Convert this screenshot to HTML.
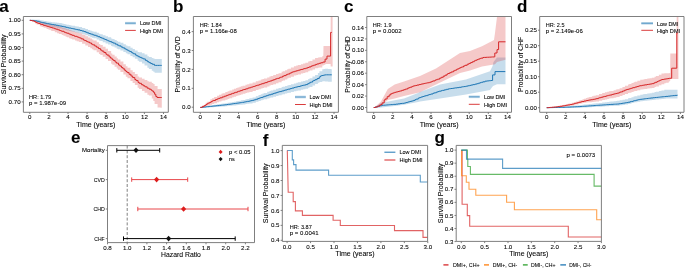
<!DOCTYPE html>
<html><head><meta charset="utf-8"><style>
html,body{margin:0;padding:0;background:#fff;width:685px;height:268px;overflow:hidden}
svg{display:block;font-family:"Liberation Sans", sans-serif;filter:blur(0.4px)}
text{stroke:#000;stroke-width:0.08px;paint-order:stroke}
</style></head><body>
<svg width="685" height="268" viewBox="0 0 685 268">
<rect width="685" height="268" fill="#fff"/>
<text x="-0.8" y="12.3" font-size="17" text-anchor="start" font-weight="bold" fill="#000">a</text>
<text x="173" y="12.3" font-size="17" text-anchor="start" font-weight="bold" fill="#000">b</text>
<text x="344.1" y="12.3" font-size="17" text-anchor="start" font-weight="bold" fill="#000">c</text>
<text x="517" y="12.3" font-size="17" text-anchor="start" font-weight="bold" fill="#000">d</text>
<text x="70.9" y="142.9" font-size="17" text-anchor="start" font-weight="bold" fill="#000">e</text>
<text x="262.8" y="146.2" font-size="17" text-anchor="start" font-weight="bold" fill="#000">f</text>
<text x="434.6" y="143" font-size="17" text-anchor="start" font-weight="bold" fill="#000">g</text>
<path d="M29.8 19.9 L32.03 19.9 L32.03 19.73 L35.22 19.73 L35.22 19.73 L36.63 19.73 L36.63 19.83 L39.82 19.83 L39.82 20.24 L41.61 20.24 L41.61 20.61 L43.64 20.61 L43.64 20.95 L46.56 20.95 L46.56 21.38 L48.56 21.38 L48.56 21.68 L50.87 21.68 L50.87 22.02 L52.03 22.02 L52.03 22.17 L54.79 22.17 L54.79 22.54 L57.07 22.54 L57.07 22.84 L58.9 22.84 L58.9 23.07 L61.73 23.07 L61.73 23.51 L63.5 23.51 L63.5 23.93 L65.6 23.93 L65.6 24.42 L66.99 24.42 L66.99 24.75 L68.98 24.75 L68.98 25.12 L70.53 25.12 L70.53 25.41 L72.2 25.41 L72.2 25.71 L74.95 25.71 L74.95 26.25 L76.67 26.25 L76.67 26.6 L78.84 26.6 L78.84 27.06 L82.09 27.06 L82.09 27.95 L85.31 27.95 L85.31 28.96 L88.01 28.96 L88.01 29.98 L90.3 29.98 L90.3 30.81 L92.01 30.81 L92.01 31.34 L93.46 31.34 L93.46 31.8 L96.69 31.8 L96.69 32.87 L98.93 32.87 L98.93 33.73 L100.28 33.73 L100.28 34.25 L102.75 34.25 L102.75 35.21 L105.56 35.21 L105.56 36.3 L108.01 36.3 L108.01 37.3 L111.13 37.3 L111.13 38.57 L112.32 38.57 L112.32 39.06 L114.58 39.06 L114.58 40.11 L116.69 40.11 L116.69 41.09 L117.93 41.09 L117.93 41.67 L120.44 41.67 L120.44 42.86 L123.41 42.86 L123.41 44.31 L125.82 44.31 L125.82 45.48 L127.49 45.48 L127.49 46.3 L130.44 46.3 L130.44 47.86 L132.66 47.86 L132.66 49.11 L134.88 49.11 L134.88 50.46 L137.64 50.46 L137.64 51.88 L139.07 51.88 L139.07 52.37 L141.97 52.37 L141.97 53.33 L144.57 53.33 L144.57 54.57 L147.4 54.57 L147.4 56.17 L148.92 56.17 L148.92 56.9 L151.79 56.9 L151.79 58.01 L153.31 58.01 L153.31 58.6 L154.59 58.6 L154.59 59.04 L157.57 59.04 L157.57 59 L160.57 59 L160.57 59 L161.8 59 L161.8 59 L161.8 72.7 L161.8 72.7 L160.57 72.7 L160.57 72.7 L157.57 72.7 L157.57 72.63 L154.59 72.63 L154.59 71.83 L153.31 71.83 L153.31 70.83 L151.79 70.83 L151.79 68.94 L148.92 68.94 L148.92 67.8 L147.4 67.8 L147.4 65.42 L144.57 65.42 L144.57 63.47 L141.97 63.47 L141.97 61.71 L139.07 61.71 L139.07 60.82 L137.64 60.82 L137.64 58.65 L134.88 58.65 L134.88 57.22 L132.66 57.22 L132.66 55.9 L130.44 55.9 L130.44 54.24 L127.49 54.24 L127.49 53.36 L125.82 53.36 L125.82 52.1 L123.41 52.1 L123.41 50.55 L120.44 50.55 L120.44 49.28 L117.93 49.28 L117.93 48.66 L116.69 48.66 L116.69 47.6 L114.58 47.6 L114.58 46.47 L112.32 46.47 L112.32 45.93 L111.13 45.93 L111.13 44.5 L108.01 44.5 L108.01 43.38 L105.56 43.38 L105.56 42.14 L102.75 42.14 L102.75 41.07 L100.28 41.07 L100.28 40.48 L98.93 40.48 L98.93 39.5 L96.69 39.5 L96.69 38.33 L93.46 38.33 L93.46 37.83 L92.01 37.83 L92.01 37.25 L90.3 37.25 L90.3 36.36 L88.01 36.36 L88.01 35.27 L85.31 35.27 L85.31 34.16 L82.09 34.16 L82.09 33.19 L78.84 33.19 L78.84 32.66 L76.67 32.66 L76.67 32.27 L74.95 32.27 L74.95 31.65 L72.2 31.65 L72.2 31.3 L70.53 31.3 L70.53 30.97 L68.98 30.97 L68.98 30.54 L66.99 30.54 L66.99 30.18 L65.6 30.18 L65.6 29.62 L63.5 29.62 L63.5 29.16 L61.73 29.16 L61.73 28.56 L58.9 28.56 L58.9 28.14 L57.07 28.14 L57.07 27.62 L54.79 27.62 L54.79 26.97 L52.03 26.97 L52.03 26.7 L50.87 26.7 L50.87 26.14 L48.56 26.14 L48.56 25.64 L46.56 25.64 L46.56 24.91 L43.64 24.91 L43.64 24.38 L41.61 24.38 L41.61 23.79 L39.82 23.79 L39.82 22.51 L36.63 22.51 L36.63 22.01 L35.22 22.01 L35.22 21.14 L32.03 21.14 L32.03 20.7 L29.8 20.7Z" fill="#1f77b4" fill-opacity="0.25" stroke="none"/>
<path d="M29.8 19.9 L32.03 19.9 L32.03 19.99 L35.22 19.99 L35.22 20.83 L36.63 20.83 L36.63 21.23 L39.82 21.23 L39.82 21.83 L41.61 21.83 L41.61 22.33 L43.64 22.33 L43.64 22.82 L46.56 22.82 L46.56 23.5 L48.56 23.5 L48.56 23.97 L50.87 23.97 L50.87 24.51 L52.03 24.51 L52.03 24.78 L54.79 24.78 L54.79 25.43 L57.07 25.43 L57.07 26.02 L58.9 26.02 L58.9 26.52 L61.73 26.52 L61.73 27.39 L63.5 27.39 L63.5 28.03 L65.6 28.03 L65.6 28.78 L66.99 28.78 L66.99 29.28 L68.98 29.28 L68.98 30 L70.53 30 L70.53 30.56 L72.2 30.56 L72.2 31.16 L74.95 31.16 L74.95 31.99 L76.67 31.99 L76.67 32.49 L78.84 32.49 L78.84 33.2 L82.09 33.2 L82.09 34.78 L85.31 34.78 L85.31 36.29 L88.01 36.29 L88.01 37.5 L90.3 37.5 L90.3 38.6 L92.01 38.6 L92.01 39.56 L93.46 39.56 L93.46 40.38 L96.69 40.38 L96.69 42.31 L98.93 42.31 L98.93 43.94 L100.28 43.94 L100.28 44.93 L102.75 44.93 L102.75 46.73 L105.56 46.73 L105.56 48.87 L108.01 48.87 L108.01 50.96 L111.13 50.96 L111.13 53.62 L112.32 53.62 L112.32 54.63 L114.58 54.63 L114.58 56.56 L116.69 56.56 L116.69 58.37 L117.93 58.37 L117.93 59.43 L120.44 59.43 L120.44 61.58 L123.41 61.58 L123.41 64.13 L125.82 64.13 L125.82 66.2 L127.49 66.2 L127.49 67.64 L130.44 67.64 L130.44 70.18 L132.66 70.18 L132.66 72.12 L134.88 72.12 L134.88 74.05 L137.64 74.05 L137.64 76.45 L139.07 76.45 L139.07 77.46 L141.97 77.46 L141.97 78.77 L144.57 78.77 L144.57 79.96 L147.4 79.96 L147.4 81.25 L148.92 81.25 L148.92 81.77 L151.79 81.77 L151.79 82.96 L153.31 82.96 L153.31 84.05 L154.59 84.05 L154.59 85.88 L157.57 85.88 L157.57 89.1 L160.57 89.1 L160.57 89.1 L161.8 89.1 L161.8 89.1 L161.8 107.8 L161.8 107.75 L160.57 107.75 L160.57 107.61 L157.57 107.61 L157.57 103.92 L154.59 103.92 L154.59 100.96 L153.31 100.96 L153.31 98.54 L151.79 98.54 L151.79 95.52 L148.92 95.52 L148.92 94.64 L147.4 94.64 L147.4 92.69 L144.57 92.69 L144.57 90.9 L141.97 90.9 L141.97 88.9 L139.07 88.9 L139.07 87.64 L137.64 87.64 L137.64 85.1 L134.88 85.1 L134.88 83.05 L132.66 83.05 L132.66 81 L130.44 81 L130.44 78.31 L127.49 78.31 L127.49 76.79 L125.82 76.79 L125.82 74.6 L123.41 74.6 L123.41 71.9 L120.44 71.9 L120.44 69.69 L117.93 69.69 L117.93 68.6 L116.69 68.6 L116.69 66.76 L114.58 66.76 L114.58 64.78 L112.32 64.78 L112.32 63.74 L111.13 63.74 L111.13 61.02 L108.01 61.02 L108.01 58.88 L105.56 58.88 L105.56 56.73 L102.75 56.73 L102.75 54.93 L100.28 54.93 L100.28 53.94 L98.93 53.94 L98.93 52.31 L96.69 52.31 L96.69 50.21 L93.46 50.21 L93.46 49.29 L92.01 49.29 L92.01 48.22 L90.3 48.22 L90.3 46.96 L88.01 46.96 L88.01 45.58 L85.31 45.58 L85.31 43.85 L82.09 43.85 L82.09 42.05 L78.84 42.05 L78.84 41.2 L76.67 41.2 L76.67 40.59 L74.95 40.59 L74.95 39.57 L72.2 39.57 L72.2 38.86 L70.53 38.86 L70.53 38.2 L68.98 38.2 L68.98 37.35 L66.99 37.35 L66.99 36.76 L65.6 36.76 L65.6 35.86 L63.5 35.86 L63.5 35.11 L61.73 35.11 L61.73 33.95 L58.9 33.95 L58.9 33.15 L57.07 33.15 L57.07 32.2 L54.79 32.2 L54.79 31.11 L52.03 31.11 L52.03 30.64 L50.87 30.64 L50.87 29.73 L48.56 29.73 L48.56 28.95 L46.56 28.95 L46.56 27.8 L43.64 27.8 L43.64 26.98 L41.61 26.98 L41.61 26.17 L39.82 26.17 L39.82 24.44 L36.63 24.44 L36.63 23.54 L35.22 23.54 L35.22 21.58 L32.03 21.58 L32.03 20.7 L29.8 20.7Z" fill="#d62728" fill-opacity="0.25" stroke="none"/>
<path d="M29.8 20.3H31.09V20.38H32.44V20.46H34.44V20.74H35.52V20.92H37.24V21.33H39.14V21.84H40.34V22.16H41.37V22.43H42.68V22.74H44.48V23.1H46.16V23.43H47.31V23.66H48.83V23.97H50.64V24.32H52.15V24.59H53.92V24.92H56.11V25.32H57.95V25.65H59.41V25.91H60.61V26.12H62.01V26.4H63.63V26.81H65.73V27.33H67.68V27.79H69.05V28.06H71.19V28.48H72.75V28.79H74.6V29.19H75.7V29.42H76.79V29.66H78.01V29.92H80.1V30.49H81.93V31.01H83.98V31.59H85.76V32.29H87.25V32.87H88.87V33.51H90.59V34.12H92.65V34.8H94.17V35.3H96.27V36.01H98.02V36.72H100.04V37.53H101.64V38.18H103.48V38.93H104.88V39.49H106.51V40.19H107.74V40.71H108.83V41.18H109.84V41.61H111.7V42.4H113.24V43.12H115.35V44.16H117.38V45.16H118.84V45.87H121.04V46.99H122.76V47.87H124.7V48.86H126.18V49.63H127.39V50.25H128.57V50.91H129.76V51.57H131.5V52.53H132.6V53.21H133.59V53.83H135.61V55.11H136.7V55.8H138.24V56.69H139.82V57.39H141.58V58.17H143.18V58.92H145.34V60.38H147.26V61.67H148.96V62.67H150.71V63.53H152.32V64.32H154.51V65.4H155.76V65.4H157.6V65.4H159.27V65.4H160.29V65.4H161.63V65.4H161.8V65.4" fill="none" stroke="#1f77b4" stroke-width="1.0" stroke-linejoin="miter"/>
<path d="M29.8 20.3H30.87V20.53H32.13V20.81H34.12V21.6H35.82V22.51H36.9V22.93H38.42V23.49H39.99V24.06H41.16V24.49H43.06V25.13H44.16V25.48H45.62V25.93H47.24V26.44H48.76V26.91H50.47V27.45H52.37V28.05H54.55V28.74H55.88V29.16H57.67V29.8H59.52V30.46H60.85V30.93H61.82V31.29H64.02V32.15H65.36V32.68H66.73V33.21H68.83V34.04H70.54V34.71H72.1V35.33H74.05V36H75.05V36.32H76.91V36.92H78.35V37.38H79.43V37.93H81.23V38.87H83.39V39.98H84.61V40.59H86.38V41.45H87.72V42.09H89.63V43.02H91.51V44.14H92.75V44.87H94.78V46.07H96.58V47.22H98.41V48.56H100.42V50.03H101.93V51.13H103.86V52.54H105.95V54.19H107.04V55.12H109.08V56.87H110.55V58.12H112.12V59.46H113.27V60.44H115.12V62.03H116.46V63.17H118.53V64.95H119.85V66.07H121.52V67.56H123V68.87H124.74V70.43H125.95V71.51H127.14V72.57H129.06V74.28H130.98V76.02H132.67V77.54H134.81V79.48H136.03V80.59H138.08V82.44H139.26V83.34H141.45V84.69H143.21V85.76H144.94V86.83H147.15V88.18H149.11V89.18H151.09V90.15H152.11V91.07H153.55V92.35H154.62V94.25H155.82V96.45H157.06V97.5H159.12V97.5H160.24V97.5H161.58V97.5H161.8V97.5" fill="none" stroke="#d62728" stroke-width="1.0" stroke-linejoin="miter"/>
<path d="M200.3 107.1 L202.53 107.1 L202.53 106.73 L205.72 106.73 L205.72 106.19 L207.13 106.19 L207.13 105.95 L210.32 105.95 L210.32 105.42 L212.11 105.42 L212.11 105.12 L214.14 105.12 L214.14 104.78 L217.06 104.78 L217.06 104.35 L219.06 104.35 L219.06 104.07 L221.37 104.07 L221.37 103.75 L222.53 103.75 L222.53 103.59 L225.29 103.59 L225.29 103.14 L227.57 103.14 L227.57 102.75 L229.4 102.75 L229.4 102.44 L232.23 102.44 L232.23 101.96 L234 101.96 L234 101.64 L236.1 101.64 L236.1 101.26 L237.49 101.26 L237.49 101.01 L239.48 101.01 L239.48 100.66 L241.03 100.66 L241.03 100.35 L242.7 100.35 L242.7 100 L245.45 100 L245.45 99.31 L247.17 99.31 L247.17 98.88 L249.34 98.88 L249.34 98.34 L252.59 98.34 L252.59 97.47 L255.81 97.47 L255.81 96.19 L258.51 96.19 L258.51 95.12 L260.8 95.12 L260.8 94.21 L262.51 94.21 L262.51 93.52 L263.96 93.52 L263.96 92.95 L267.19 92.95 L267.19 91.75 L269.43 91.75 L269.43 91.02 L270.78 91.02 L270.78 90.58 L273.25 90.58 L273.25 89.77 L276.06 89.77 L276.06 88.85 L278.51 88.85 L278.51 88.05 L281.63 88.05 L281.63 87.1 L282.82 87.1 L282.82 86.74 L285.08 86.74 L285.08 86.06 L287.19 86.06 L287.19 85.43 L288.43 85.43 L288.43 85.06 L290.94 85.06 L290.94 84.31 L293.91 84.31 L293.91 83.45 L296.32 83.45 L296.32 82.8 L297.99 82.8 L297.99 82.34 L300.94 82.34 L300.94 81.54 L303.16 81.54 L303.16 80.92 L305.38 80.92 L305.38 80.31 L308.14 80.31 L308.14 79.01 L309.57 79.01 L309.57 78.21 L312.47 78.21 L312.47 76.57 L315.07 76.57 L315.07 75.1 L317.9 75.1 L317.9 73.01 L319.42 73.01 L319.42 71.25 L322.29 71.25 L322.29 69.24 L323.81 69.24 L323.81 68.97 L325.09 68.97 L325.09 68.83 L328.07 68.83 L328.07 68.99 L331.07 68.99 L331.07 69.16 L331.8 69.16 L331.8 69.2 L331.8 81.7 L331.8 81.7 L331.07 81.7 L331.07 81.7 L328.07 81.7 L328.07 81.46 L325.09 81.46 L325.09 81.33 L323.81 81.33 L323.81 81.28 L322.29 81.28 L322.29 81.96 L319.42 81.96 L319.42 82.71 L317.9 82.71 L317.9 84.1 L315.07 84.1 L315.07 85.43 L312.47 85.43 L312.47 86.91 L309.57 86.91 L309.57 87.64 L308.14 87.64 L308.14 88.79 L305.38 88.79 L305.38 89.29 L303.16 89.29 L303.16 89.79 L300.94 89.79 L300.94 90.45 L297.99 90.45 L297.99 90.82 L296.32 90.82 L296.32 91.36 L293.91 91.36 L293.91 92.09 L290.94 92.09 L290.94 92.72 L288.43 92.72 L288.43 93.03 L287.19 93.03 L287.19 93.56 L285.08 93.56 L285.08 94.13 L282.82 94.13 L282.82 94.43 L281.63 94.43 L281.63 95.24 L278.51 95.24 L278.51 95.93 L276.06 95.93 L276.06 96.71 L273.25 96.71 L273.25 97.4 L270.78 97.4 L270.78 97.78 L269.43 97.78 L269.43 98.41 L267.19 98.41 L267.19 99.36 L263.96 99.36 L263.96 99.8 L262.51 99.8 L262.51 100.32 L260.8 100.32 L260.8 101.03 L258.51 101.03 L258.51 101.85 L255.81 101.85 L255.81 102.84 L252.59 102.84 L252.59 103.4 L249.34 103.4 L249.34 103.74 L247.17 103.74 L247.17 104.02 L245.45 104.02 L245.45 104.45 L242.7 104.45 L242.7 104.65 L241.03 104.65 L241.03 104.82 L239.48 104.82 L239.48 105.03 L237.49 105.03 L237.49 105.18 L236.1 105.18 L236.1 105.41 L234 105.41 L234 105.6 L232.23 105.6 L232.23 105.87 L229.4 105.87 L229.4 106.05 L227.57 106.05 L227.57 106.28 L225.29 106.28 L225.29 106.53 L222.53 106.53 L222.53 106.61 L221.37 106.61 L221.37 106.76 L219.06 106.76 L219.06 106.9 L217.06 106.9 L217.06 107.07 L214.14 107.07 L214.14 107.16 L212.11 107.16 L212.11 107.24 L210.32 107.24 L210.32 107.39 L207.13 107.39 L207.13 107.45 L205.72 107.45 L205.72 107.6 L202.53 107.6 L202.53 107.7 L200.3 107.7Z" fill="#1f77b4" fill-opacity="0.25" stroke="none"/>
<path d="M200.3 107.1 L202.53 107.1 L202.53 105.44 L205.72 105.44 L205.72 102.87 L207.13 102.87 L207.13 101.66 L210.32 101.66 L210.32 99.17 L212.11 99.17 L212.11 98.13 L214.14 98.13 L214.14 97.03 L217.06 97.03 L217.06 95.7 L219.06 95.7 L219.06 94.78 L221.37 94.78 L221.37 93.72 L222.53 93.72 L222.53 93.19 L225.29 93.19 L225.29 92.03 L227.57 92.03 L227.57 91.19 L229.4 91.19 L229.4 90.52 L232.23 90.52 L232.23 89.48 L234 89.48 L234 88.83 L236.1 88.83 L236.1 88.06 L237.49 88.06 L237.49 87.54 L239.48 87.54 L239.48 86.81 L241.03 86.81 L241.03 86.24 L242.7 86.24 L242.7 85.64 L245.45 85.64 L245.45 84.75 L247.17 84.75 L247.17 84.19 L249.34 84.19 L249.34 83.49 L252.59 83.49 L252.59 82.43 L255.81 82.43 L255.81 81.33 L258.51 81.33 L258.51 80.41 L260.8 80.41 L260.8 79.62 L262.51 79.62 L262.51 79.03 L263.96 79.03 L263.96 78.54 L267.19 78.54 L267.19 77.38 L269.43 77.38 L269.43 76.54 L270.78 76.54 L270.78 76.03 L273.25 76.03 L273.25 75.11 L276.06 75.11 L276.06 74.05 L278.51 74.05 L278.51 73.13 L281.63 73.13 L281.63 71.77 L282.82 71.77 L282.82 71.23 L285.08 71.23 L285.08 70.19 L287.19 70.19 L287.19 69.22 L288.43 69.22 L288.43 68.65 L290.94 68.65 L290.94 67.5 L293.91 67.5 L293.91 66.29 L296.32 66.29 L296.32 65.57 L297.99 65.57 L297.99 65.07 L300.94 65.07 L300.94 64.19 L303.16 64.19 L303.16 63.53 L305.38 63.53 L305.38 62.87 L308.14 62.87 L308.14 61.62 L309.57 61.62 L309.57 60.89 L312.47 60.89 L312.47 59.41 L315.07 59.41 L315.07 58.1 L317.9 58.1 L317.9 57.57 L319.42 57.57 L319.42 57.3 L322.29 57.3 L322.29 56.3 L323.3 56 L323.5 45.9 L330.6 45.9 L330.7 16.5 L332.6 16.5 L332.6 66.4 L330.7 66.4 L330.6 64 L326 64 L323.3 65.5 L322.29 65.45 L322.29 67.59 L319.42 67.59 L319.42 67.83 L317.9 67.83 L317.9 68.3 L315.07 68.3 L315.07 69.39 L312.47 69.39 L312.47 70.61 L309.57 70.61 L309.57 71.21 L308.14 71.21 L308.14 72.26 L305.38 72.26 L305.38 72.9 L303.16 72.9 L303.16 73.54 L300.94 73.54 L300.94 74.39 L297.99 74.39 L297.99 74.88 L296.32 74.88 L296.32 75.57 L293.91 75.57 L293.91 76.75 L290.94 76.75 L290.94 77.87 L288.43 77.87 L288.43 78.43 L287.19 78.43 L287.19 79.38 L285.08 79.38 L285.08 80.4 L282.82 80.4 L282.82 80.93 L281.63 80.93 L281.63 82.26 L278.51 82.26 L278.51 83.15 L276.06 83.15 L276.06 84.18 L273.25 84.18 L273.25 85.08 L270.78 85.08 L270.78 85.58 L269.43 85.58 L269.43 86.39 L267.19 86.39 L267.19 87.47 L263.96 87.47 L263.96 87.91 L262.51 87.91 L262.51 88.44 L260.8 88.44 L260.8 89.15 L258.51 89.15 L258.51 89.98 L255.81 89.98 L255.81 90.97 L252.59 90.97 L252.59 91.92 L249.34 91.92 L249.34 92.55 L247.17 92.55 L247.17 93.05 L245.45 93.05 L245.45 93.84 L242.7 93.84 L242.7 94.39 L241.03 94.39 L241.03 94.91 L239.48 94.91 L239.48 95.57 L237.49 95.57 L237.49 96.03 L236.1 96.03 L236.1 96.73 L234 96.73 L234 97.32 L232.23 97.32 L232.23 98.27 L229.4 98.27 L229.4 98.88 L227.57 98.88 L227.57 99.64 L225.29 99.64 L225.29 100.46 L222.53 100.46 L222.53 100.84 L221.37 100.84 L221.37 101.59 L219.06 101.59 L219.06 102.24 L217.06 102.24 L217.06 103.19 L214.14 103.19 L214.14 104.01 L212.11 104.01 L212.11 104.82 L210.32 104.82 L210.32 105.78 L207.13 105.78 L207.13 106.27 L205.72 106.27 L205.72 107.19 L202.53 107.19 L202.53 107.7 L200.3 107.7Z" fill="#d62728" fill-opacity="0.25" stroke="none"/>
<path d="M200.3 107.4H202.47V107.17H204.08V107H206.29V106.76H207.35V106.65H209.09V106.46H210.53V106.31H212.52V106.09H213.7V105.97H215.78V105.75H217.44V105.58H219.55V105.37H221.12V105.2H222.63V105.05H224.6V104.8H226.82V104.5H228.26V104.31H230.46V104.01H232.6V103.73H233.79V103.56H235.53V103.31H237.39V103.04H239.56V102.72H241.37V102.46H242.5V102.3H244.1V101.99H245.69V101.68H247.29V101.37H249.48V100.95H250.89V100.67H252.13V100.43H253.76V99.9H255.54V99.3H257.7V98.56H259.41V97.98H260.71V97.53H262.86V96.8H264.45V96.26H266.28V95.65H267.85V95.17H269.08V94.79H270.93V94.22H272.88V93.61H274.08V93.24H275.63V92.76H277.05V92.32H278.23V91.96H279.48V91.58H281.67V90.96H283.76V90.37H285.21V89.97H287.11V89.43H288.13V89.14H290.26V88.54H291.91V88.08H293.92V87.54H295.23V87.21H296.67V86.84H298.08V86.49H300.28V85.93H301.79V85.54H303.39V85.14H305.58V84.58H307.69V83.65H309.16V82.85H310.51V82.12H312.5V81.04H313.6V80.45H315.06V79.66H317.14V78.53H319.28V76.93H320.54V75.97H321.6V75.53H323.57V75.07H325.32V74.8H326.59V74.8H328.19V74.8H329.25V74.8H331.1V74.8H331.8V74.8" fill="none" stroke="#1f77b4" stroke-width="1.0" stroke-linejoin="miter"/>
<path d="M200.3 107.4H202.29V106.43H204.28V105.43H205.9V104.46H207.23V103.66H208.26V103.07H209.71V102.31H211.19V101.54H212.21V101.02H213.23V100.49H215.47V99.59H217.27V98.89H218.53V98.39H220.04V97.8H222.25V96.93H224.36V96.16H226.4V95.44H227.86V94.93H229.45V94.37H231.28V93.73H232.32V93.37H233.99V92.78H235.3V92.32H237.38V91.59H238.42V91.23H240.25V90.59H242.33V89.86H243.58V89.47H245.68V88.83H247.76V88.19H248.74V87.89H250.61V87.32H251.57V87.02H253.18V86.51H254.7V86.02H255.92V85.62H257.29V85.17H259.28V84.52H260.65V84.08H261.8V83.7H263.65V83.1H265.19V82.6H267.17V81.92H268.43V81.47H269.8V80.99H271.78V80.29H273.39V79.72H275V79.15H276.26V78.71H277.24V78.36H279.4V77.6H280.47V77.13H282.51V76.24H283.94V75.62H286.12V74.66H287.59V74.02H289.75V73.08H291.42V72.35H292.69V71.79H294.6V71.23H296.42V70.73H298.25V70.22H299.81V69.79H301.05V69.45H302.83V68.96H303.93V68.65H305.78V68.14H307.55V67.51H308.99V66.95H310.97V66.18H312.18V65.71H313.64V65.15H315.62V64.4H317.07V63.93H318.94V63.33H320.69V62.78H322.85V62.04H325.08V59.1H326.97V56.1H328.96V56.1H330.12V56.1H330.6V56.1V32.4H331.8" fill="none" stroke="#d62728" stroke-width="1.0" stroke-linejoin="miter"/>
<path d="M373.7 107.5 L376 106.5 L381 103 L394.7 100.2 L404 98.5 L418 93 L420 92 L440 84.6 L466 79.6 L490 71.2 L492.6 66 L493.5 62 L497 57.5 L505.5 57.5 L505.5 84.3 L497 84.3 L493 86 L490 89.9 L466 94.5 L440 98.5 L420 101.5 L418 102 L404 104.7 L394.7 106 L381 107.5 L376 108 L373.7 107.5Z" fill="#1f77b4" fill-opacity="0.25" stroke="none"/>
<path d="M373.7 107.5 L376 106 L381 101.5 L387.8 89 L394.7 84.6 L404 81.5 L420 75.9 L436 68.5 L460 53 L470 51 L482 46.3 L494 40 L495 33 L497 17 L497.5 16.5 L505.5 16.5 L505.5 59.7 L497 62 L495 64.2 L482 66.4 L470 70.5 L460 73 L436 84.6 L420 92.3 L404 96 L394.7 98.5 L387.8 100 L381 106 L376 108 L373.7 107.5Z" fill="#d62728" fill-opacity="0.25" stroke="none"/>
<path d="M373.7 107.5H375.35V107.02H376.75V106.61H378.18V106.19H379.62V105.77H381.84V105.32H383.61V105.18H385.44V105.04H386.82V104.93H388.65V104.78H389.77V104.69H390.79V104.61H392.84V104.45H393.81V104.37H396.03V104.13H398.04V103.87H400.01V103.61H401.03V103.48H402.26V103.32H404.3V103.01H405.82V102.59H407.58V102.09H408.7V101.77H409.9V101.43H411.49V100.98H413.42V100.39H415.08V99.62H416.17V99.1H418.24V98.13H419.38V97.59H420.9V97.03H422.61V96.51H423.98V96.1H425.48V95.65H427.57V95.02H429.11V94.56H430.76V94H432.97V93.25H434.28V92.8H436.39V92.09H437.81V91.6H439.17V91.18H441.26V90.64H442.3V90.37H444.37V89.84H446.39V89.32H448.49V88.83H449.53V88.69H450.8V88.51H452.75V88.24H454.27V88.02H455.23V87.89H457.08V87.63H459.06V87.32H461.27V86.96H462.42V86.77H463.71V86.57H465.74V86.24H466.82V86.05H468.13V85.74H469.67V85.38H471.17V85.03H472.82V84.64H474.89V84.16H476.66V83.7H478.46V83.16H480.17V82.64H481.4V82.27H482.94V81.81H485.16V81.14H487.29V80.89H489.23V80.68H490.87V80.5H492.6V80.3V74.9H495V71.6H505.3" fill="none" stroke="#1f77b4" stroke-width="1.0" stroke-linejoin="miter"/>
<path d="M373.7 107.5H375.46V106.97H377.57V106.21H379.52V105.21H380.77V104.57H382.11V102.86H384.19V100.05H385.16V98.94H387.17V96.7H389.15V94.98H390.71V93.8H392.06V93.29H393.37V92.8H394.66V92.32H396.19V91.94H397.8V91.54H399.46V91.02H401.7V90.32H403.67V89.7H405.43V89.04H407.65V88.17H408.89V87.69H410.06V87.23H411.8V86.55H412.82V86.15H413.82V85.84H415.44V85.44H417V85.05H419.13V84.52H420.9V84.12H422.51V83.79H424.11V83.46H425.39V83.2H426.36V83H427.57V82.75H429.41V82.35H430.63V81.88H432.06V81.31H433.03V80.93H435.05V80.14H436.21V79.68H437.51V79.17H439.6V78.2H441.21V77.3H443.26V76.15H445.03V75.16H446.94V74.09H448.02V73.49H449.67V72.69H451.28V71.91H453.36V70.91H454.78V70.22H456.51V69.38H457.54V68.88H459V68.18H460.37V67.51H461.52V66.96H463.53V65.99H464.98V65.29H467.19V64.22H468.9V63.4H470.64V62.57H472.41V61.72H474.24V60.84H475.39V60.29H476.92V59.64H478.18V59.15H479.66V58.57H480.74V58.15H482.94V57.47H484.18V57.4H486V57.3H487.34V57.22H489.42V57.1H491.23V57H492.36V56.94H494.4V56.82H494.8V56.8V53H497V49.6H498.6V41.8H505.5" fill="none" stroke="#d62728" stroke-width="1.0" stroke-linejoin="miter"/>
<path d="M546.7 107.5 L548.93 107.5 L548.93 107.36 L552.12 107.36 L552.12 107.16 L553.53 107.16 L553.53 107.07 L556.72 107.07 L556.72 106.87 L558.51 106.87 L558.51 106.76 L560.54 106.76 L560.54 106.63 L563.46 106.63 L563.46 106.45 L565.46 106.45 L565.46 106.28 L567.77 106.28 L567.77 106.09 L568.93 106.09 L568.93 105.99 L571.69 105.99 L571.69 105.76 L573.97 105.76 L573.97 105.57 L575.8 105.57 L575.8 105.42 L578.63 105.42 L578.63 105.18 L580.4 105.18 L580.4 105 L582.5 105 L582.5 104.76 L583.89 104.76 L583.89 104.6 L585.88 104.6 L585.88 104.38 L587.43 104.38 L587.43 104.2 L589.1 104.2 L589.1 104.01 L591.85 104.01 L591.85 103.7 L593.57 103.7 L593.57 103.51 L595.74 103.51 L595.74 103.26 L598.99 103.26 L598.99 102.89 L602.21 102.89 L602.21 102.53 L604.91 102.53 L604.91 102.22 L607.2 102.22 L607.2 101.96 L608.91 101.96 L608.91 101.77 L610.36 101.77 L610.36 101.6 L613.59 101.6 L613.59 101.22 L615.83 101.22 L615.83 100.96 L617.18 100.96 L617.18 100.8 L619.65 100.8 L619.65 100.31 L622.46 100.31 L622.46 99.68 L624.91 99.68 L624.91 99.14 L628.03 99.14 L628.03 98.36 L629.22 98.36 L629.22 97.99 L631.48 97.99 L631.48 97.28 L633.59 97.28 L633.59 96.62 L634.83 96.62 L634.83 96.24 L637.34 96.24 L637.34 95.45 L640.31 95.45 L640.31 94.71 L642.72 94.71 L642.72 94.31 L644.39 94.31 L644.39 94.03 L647.34 94.03 L647.34 93.54 L649.56 93.54 L649.56 93.17 L651.78 93.17 L651.78 92.65 L654.54 92.65 L654.54 92.03 L655.97 92.03 L655.97 91.71 L658.87 91.71 L658.87 91.06 L661.47 91.06 L661.47 90.48 L664.3 90.48 L664.3 89.85 L665.82 89.85 L665.82 89.7 L668.69 89.7 L668.69 89.7 L670.21 89.7 L670.21 89.7 L671.49 89.7 L671.49 89.7 L674.47 89.7 L674.47 89.7 L677.47 89.7 L677.47 89.7 L677.5 89.7 L677.5 89.7 L677.5 98.6 L677.5 98.6 L677.47 98.6 L677.47 98.6 L674.47 98.6 L674.47 98.6 L671.49 98.6 L671.49 98.6 L670.21 98.6 L670.21 98.6 L668.69 98.6 L668.69 98.6 L665.82 98.6 L665.82 98.68 L664.3 98.68 L664.3 98.98 L661.47 98.98 L661.47 99.27 L658.87 99.27 L658.87 99.59 L655.97 99.59 L655.97 99.74 L654.54 99.74 L654.54 100.05 L651.78 100.05 L651.78 100.33 L649.56 100.33 L649.56 100.52 L647.34 100.52 L647.34 100.78 L644.39 100.78 L644.39 100.92 L642.72 100.92 L642.72 101.13 L640.31 101.13 L640.31 101.68 L637.34 101.68 L637.34 102.29 L634.83 102.29 L634.83 102.6 L633.59 102.6 L633.59 103.11 L631.48 103.11 L631.48 103.67 L629.22 103.67 L629.22 103.96 L628.03 103.96 L628.03 104.54 L624.91 104.54 L624.91 104.91 L622.46 104.91 L622.46 105.35 L619.65 105.35 L619.65 105.68 L617.18 105.68 L617.18 105.74 L615.83 105.74 L615.83 105.86 L613.59 105.86 L613.59 106.02 L610.36 106.02 L610.36 106.1 L608.91 106.1 L608.91 106.2 L607.2 106.2 L607.2 106.33 L604.91 106.33 L604.91 106.48 L602.21 106.48 L602.21 106.67 L598.99 106.67 L598.99 106.85 L595.74 106.85 L595.74 106.97 L593.57 106.97 L593.57 107.07 L591.85 107.07 L591.85 107.23 L589.1 107.23 L589.1 107.32 L587.43 107.32 L587.43 107.41 L585.88 107.41 L585.88 107.52 L583.89 107.52 L583.89 107.6 L582.5 107.6 L582.5 107.72 L580.4 107.72 L580.4 107.78 L578.63 107.78 L578.63 107.83 L575.8 107.83 L575.8 107.85 L573.97 107.85 L573.97 107.89 L571.69 107.89 L571.69 107.93 L568.93 107.93 L568.93 107.94 L567.77 107.94 L567.77 107.98 L565.46 107.98 L565.46 108 L563.46 108 L563.46 107.99 L560.54 107.99 L560.54 107.97 L558.51 107.97 L558.51 107.96 L556.72 107.96 L556.72 107.94 L553.53 107.94 L553.53 107.93 L552.12 107.93 L552.12 107.91 L548.93 107.91 L548.93 107.9 L546.7 107.9Z" fill="#1f77b4" fill-opacity="0.25" stroke="none"/>
<path d="M546.7 107.5 L548.93 107.5 L548.93 107.2 L552.12 107.2 L552.12 106.76 L553.53 106.76 L553.53 106.56 L556.72 106.56 L556.72 106.07 L558.51 106.07 L558.51 105.74 L560.54 105.74 L560.54 105.35 L563.46 105.35 L563.46 104.8 L565.46 104.8 L565.46 104.33 L567.77 104.33 L567.77 103.78 L568.93 103.78 L568.93 103.5 L571.69 103.5 L571.69 102.82 L573.97 102.82 L573.97 102.1 L575.8 102.1 L575.8 101.52 L578.63 101.52 L578.63 100.62 L580.4 100.62 L580.4 100.07 L582.5 100.07 L582.5 99.32 L583.89 99.32 L583.89 98.82 L585.88 98.82 L585.88 98.11 L587.43 98.11 L587.43 97.58 L589.1 97.58 L589.1 97.1 L591.85 97.1 L591.85 96.32 L593.57 96.32 L593.57 95.84 L595.74 95.84 L595.74 95.13 L598.99 95.13 L598.99 93.95 L602.21 93.95 L602.21 93.04 L604.91 93.04 L604.91 92.34 L607.2 92.34 L607.2 91.76 L608.91 91.76 L608.91 91.33 L610.36 91.33 L610.36 90.96 L613.59 90.96 L613.59 90.14 L615.83 90.14 L615.83 89.57 L617.18 89.57 L617.18 89.23 L619.65 89.23 L619.65 88.31 L622.46 88.31 L622.46 86.95 L624.91 86.95 L624.91 85.73 L628.03 85.73 L628.03 84.46 L629.22 84.46 L629.22 83.99 L631.48 83.99 L631.48 83.11 L633.59 83.11 L633.59 82.28 L634.83 82.28 L634.83 81.8 L637.34 81.8 L637.34 80.82 L640.31 80.82 L640.31 79.85 L642.72 79.85 L642.72 79.42 L644.39 79.42 L644.39 79.12 L647.34 79.12 L647.34 78.58 L649.56 78.58 L649.56 78.18 L651.78 78.18 L651.78 77.78 L654.54 77.78 L654.54 76.69 L655.97 76.69 L655.97 76.06 L658.87 76.06 L658.87 74.76 L661.47 74.76 L661.47 73.6 L664.3 73.6 L664.3 73.37 L665.82 73.37 L665.82 73.31 L668.69 73.31 L668.69 73.2 L670.2 73 L670.3 53.4 L676.6 53.4 L676.7 16.5 L678.4 16.5 L678.4 79 L670.3 79 L670.2 81 L668.69 81.67 L668.69 82.74 L665.82 82.74 L665.82 83.3 L664.3 83.3 L664.3 84.28 L661.47 84.28 L661.47 85.32 L658.87 85.32 L658.87 86.48 L655.97 86.48 L655.97 87.05 L654.54 87.05 L654.54 88.02 L651.78 88.02 L651.78 88.32 L649.56 88.32 L649.56 88.62 L647.34 88.62 L647.34 89.02 L644.39 89.02 L644.39 89.24 L642.72 89.24 L642.72 89.57 L640.31 89.57 L640.31 90.26 L637.34 90.26 L637.34 91.01 L634.83 91.01 L634.83 91.37 L633.59 91.37 L633.59 92 L631.48 92 L631.48 92.67 L629.22 92.67 L629.22 93.02 L628.03 93.02 L628.03 94 L624.91 94 L624.91 94.98 L622.46 94.98 L622.46 96.1 L619.65 96.1 L619.65 96.9 L617.18 96.9 L617.18 97.19 L615.83 97.19 L615.83 97.65 L613.59 97.65 L613.59 98.32 L610.36 98.32 L610.36 98.62 L608.91 98.62 L608.91 98.98 L607.2 98.98 L607.2 99.46 L604.91 99.46 L604.91 100.03 L602.21 100.03 L602.21 100.79 L598.99 100.79 L598.99 101.49 L595.74 101.49 L595.74 101.78 L593.57 101.78 L593.57 101.93 L591.85 101.93 L591.85 102.17 L589.1 102.17 L589.1 102.32 L587.43 102.32 L587.43 102.55 L585.88 102.55 L585.88 102.87 L583.89 102.87 L583.89 103.1 L582.5 103.1 L582.5 103.44 L580.4 103.44 L580.4 103.8 L578.63 103.8 L578.63 104.45 L575.8 104.45 L575.8 104.87 L573.97 104.87 L573.97 105.4 L571.69 105.4 L571.69 105.84 L568.93 105.84 L568.93 106.01 L567.77 106.01 L567.77 106.36 L565.46 106.36 L565.46 106.66 L563.46 106.66 L563.46 106.96 L560.54 106.96 L560.54 107.17 L558.51 107.17 L558.51 107.35 L556.72 107.35 L556.72 107.56 L553.53 107.56 L553.53 107.63 L552.12 107.63 L552.12 107.79 L548.93 107.79 L548.93 107.9 L546.7 107.9Z" fill="#d62728" fill-opacity="0.25" stroke="none"/>
<path d="M546.7 107.7H548.08V107.67H550.3V107.61H551.67V107.58H553.64V107.53H555.71V107.49H557.17V107.45H558.69V107.41H560.13V107.38H561.23V107.35H562.8V107.32H564.07V107.27H565.36V107.22H566.56V107.16H567.76V107.11H569.77V107.02H571.27V106.95H572.55V106.9H574.27V106.82H576V106.74H577.79V106.66H579.92V106.55H581.07V106.47H582.51V106.37H583.83V106.28H584.81V106.21H586V106.12H587.47V106.02H588.93V105.92H590.68V105.8H592.22V105.69H593.96V105.57H595.2V105.48H596.34V105.4H597.72V105.3H598.8V105.23H600.23V105.13H601.78V105.02H603.66V104.89H605.73V104.74H606.75V104.67H608.94V104.52H610.82V104.39H613.05V104.26H614.16V104.2H615.6V104.12H617.2V104.03H619.12V103.77H620.47V103.55H622.01V103.3H623.32V103.09H624.86V102.85H626.47V102.59H628.16V102.21H630.02V101.74H631.29V101.42H633.05V100.97H634.13V100.7H635.87V100.26H637.42V99.87H638.55V99.59H639.84V99.38H640.88V99.25H642.32V99.07H643.8V98.88H645.38V98.68H646.43V98.54H648.31V98.31H649.68V98.13H651V97.97H653.1V97.72H654.83V97.54H656.63V97.36H658.27V97.19H659.51V97.06H660.66V96.94H661.86V96.82H663.25V96.68H664.43V96.56H666V96.39H668.2V96.14H670.11V95.93H671.46V95.78H672.82V95.62H674.78V95.4H676.98V95.16H677.5V95.1" fill="none" stroke="#1f77b4" stroke-width="1.0" stroke-linejoin="miter"/>
<path d="M546.7 107.7H548.77V107.52H550.1V107.4H551.83V107.24H553.79V107.07H555.66V106.9H557.8V106.6H559.86V106.31H561.99V106.01H562.99V105.87H564.51V105.61H566.09V105.31H567.13V105.11H568.1V104.93H570.12V104.54H572.34V104.05H574.3V103.52H575.67V103.15H577.53V102.65H578.87V102.29H580.78V101.82H582.1V101.5H584.06V101.03H586.29V100.5H588.51V100.07H590.6V99.72H592.73V99.36H594.59V99.05H596.26V98.62H598.41V98.01H599.48V97.71H600.91V97.3H602.65V96.81H604.22V96.41H606.2V95.91H607.41V95.61H608.45V95.35H609.57V95.06H611.76V94.51H612.89V94.22H614.14V93.9H615.58V93.54H617.34V93.09H619.3V92.36H620.36V91.93H622.51V91.06H624.45V90.28H625.82V89.78H627.02V89.42H628.75V88.91H630.47V88.4H631.77V88.01H632.95V87.66H634.89V87.09H636.71V86.55H638.69V85.96H639.93V85.72H641.82V85.4H642.87V85.22H643.84V85.05H645.03V84.85H646.99V84.51H648.65V84.23H650.4V83.93H652.11V83.63H653.89V82.91H655.26V82.31H657.14V81.49H658.12V81.06H659.57V80.43H660.6V79.98H661.72V79.5H663.83V79.16H665.57V78.88H667.54V78.56H669.27V78.28H670.96V78.2H671.7V78.2V68.2H676.8V33H677.8" fill="none" stroke="#d62728" stroke-width="1.0" stroke-linejoin="miter"/>
<line x1="23.4" y1="16.5" x2="23.4" y2="112.3" stroke="#707070" stroke-width="0.9"/>
<line x1="168.3" y1="16.5" x2="168.3" y2="112.3" stroke="#707070" stroke-width="0.9"/>
<line x1="23.4" y1="16.5" x2="168.3" y2="16.5" stroke="#707070" stroke-width="0.9"/>
<line x1="23.4" y1="112.3" x2="168.3" y2="112.3" stroke="#707070" stroke-width="0.9"/>
<line x1="29.8" y1="112.3" x2="29.8" y2="114" stroke="#707070" stroke-width="0.9"/>
<text x="29.8" y="119.3" font-size="6.21" text-anchor="middle" textLength="3.44" lengthAdjust="spacingAndGlyphs" fill="#000">0</text>
<line x1="48.9" y1="112.3" x2="48.9" y2="114" stroke="#707070" stroke-width="0.9"/>
<text x="48.9" y="119.3" font-size="6.21" text-anchor="middle" textLength="3.44" lengthAdjust="spacingAndGlyphs" fill="#000">2</text>
<line x1="68" y1="112.3" x2="68" y2="114" stroke="#707070" stroke-width="0.9"/>
<text x="68" y="119.3" font-size="6.21" text-anchor="middle" textLength="3.44" lengthAdjust="spacingAndGlyphs" fill="#000">4</text>
<line x1="87.1" y1="112.3" x2="87.1" y2="114" stroke="#707070" stroke-width="0.9"/>
<text x="87.1" y="119.3" font-size="6.21" text-anchor="middle" textLength="3.44" lengthAdjust="spacingAndGlyphs" fill="#000">6</text>
<line x1="106.2" y1="112.3" x2="106.2" y2="114" stroke="#707070" stroke-width="0.9"/>
<text x="106.2" y="119.3" font-size="6.21" text-anchor="middle" textLength="3.44" lengthAdjust="spacingAndGlyphs" fill="#000">8</text>
<line x1="125.3" y1="112.3" x2="125.3" y2="114" stroke="#707070" stroke-width="0.9"/>
<text x="125.3" y="119.3" font-size="6.21" text-anchor="middle" textLength="6.87" lengthAdjust="spacingAndGlyphs" fill="#000">10</text>
<line x1="144.4" y1="112.3" x2="144.4" y2="114" stroke="#707070" stroke-width="0.9"/>
<text x="144.4" y="119.3" font-size="6.21" text-anchor="middle" textLength="6.87" lengthAdjust="spacingAndGlyphs" fill="#000">12</text>
<line x1="163.5" y1="112.3" x2="163.5" y2="114" stroke="#707070" stroke-width="0.9"/>
<text x="163.5" y="119.3" font-size="6.21" text-anchor="middle" textLength="6.87" lengthAdjust="spacingAndGlyphs" fill="#000">14</text>
<line x1="21.7" y1="20.3" x2="23.4" y2="20.3" stroke="#707070" stroke-width="0.9"/>
<text x="20.6" y="22.4" font-size="6.21" text-anchor="end" textLength="12.02" lengthAdjust="spacingAndGlyphs" fill="#000">1.00</text>
<line x1="21.7" y1="33.9" x2="23.4" y2="33.9" stroke="#707070" stroke-width="0.9"/>
<text x="20.6" y="36" font-size="6.21" text-anchor="end" textLength="12.02" lengthAdjust="spacingAndGlyphs" fill="#000">0.95</text>
<line x1="21.7" y1="47.5" x2="23.4" y2="47.5" stroke="#707070" stroke-width="0.9"/>
<text x="20.6" y="49.6" font-size="6.21" text-anchor="end" textLength="12.02" lengthAdjust="spacingAndGlyphs" fill="#000">0.90</text>
<line x1="21.7" y1="61.1" x2="23.4" y2="61.1" stroke="#707070" stroke-width="0.9"/>
<text x="20.6" y="63.2" font-size="6.21" text-anchor="end" textLength="12.02" lengthAdjust="spacingAndGlyphs" fill="#000">0.85</text>
<line x1="21.7" y1="74.7" x2="23.4" y2="74.7" stroke="#707070" stroke-width="0.9"/>
<text x="20.6" y="76.8" font-size="6.21" text-anchor="end" textLength="12.02" lengthAdjust="spacingAndGlyphs" fill="#000">0.80</text>
<line x1="21.7" y1="88.3" x2="23.4" y2="88.3" stroke="#707070" stroke-width="0.9"/>
<text x="20.6" y="90.4" font-size="6.21" text-anchor="end" textLength="12.02" lengthAdjust="spacingAndGlyphs" fill="#000">0.75</text>
<line x1="21.7" y1="101.9" x2="23.4" y2="101.9" stroke="#707070" stroke-width="0.9"/>
<text x="20.6" y="104" font-size="6.21" text-anchor="end" textLength="12.02" lengthAdjust="spacingAndGlyphs" fill="#000">0.70</text>
<text x="6" y="64.4" font-size="7.13" text-anchor="middle" transform="rotate(-90 6 64.4)" textLength="59.74" lengthAdjust="spacingAndGlyphs" fill="#000">Survival Probability</text>
<text x="95.85" y="126.7" font-size="7.13" text-anchor="middle" textLength="39.04" lengthAdjust="spacingAndGlyphs" fill="#000">Time (years)</text>
<text x="29.1" y="98.9" font-size="5.89" text-anchor="start" textLength="22" lengthAdjust="spacingAndGlyphs" fill="#000">HR: 1.79</text>
<text x="29.1" y="104.8" font-size="5.89" text-anchor="start" textLength="36.97" lengthAdjust="spacingAndGlyphs" fill="#000">p = 1.987e-09</text>
<rect x="125.1" y="21.9" width="10.7" height="2.6" fill="#1f77b4" fill-opacity="0.3"/>
<line x1="125.1" y1="23.2" x2="135.8" y2="23.2" stroke="#1f77b4" stroke-width="1.0" stroke-opacity="0.6"/>
<line x1="125.1" y1="30.4" x2="135.8" y2="30.4" stroke="#d62728" stroke-width="1.0" stroke-opacity="0.9"/>
<text x="140" y="25.4" font-size="5.86" text-anchor="start" textLength="21.5" lengthAdjust="spacingAndGlyphs" fill="#000">Low DMI</text>
<text x="140" y="32.6" font-size="5.86" text-anchor="start" textLength="23.17" lengthAdjust="spacingAndGlyphs" fill="#000">High DMI</text>
<line x1="193.4" y1="16.5" x2="193.4" y2="112.3" stroke="#707070" stroke-width="0.9"/>
<line x1="338.4" y1="16.5" x2="338.4" y2="112.3" stroke="#707070" stroke-width="0.9"/>
<line x1="193.4" y1="16.5" x2="338.4" y2="16.5" stroke="#707070" stroke-width="0.9"/>
<line x1="193.4" y1="112.3" x2="338.4" y2="112.3" stroke="#707070" stroke-width="0.9"/>
<line x1="200.3" y1="112.3" x2="200.3" y2="114" stroke="#707070" stroke-width="0.9"/>
<text x="200.3" y="119.3" font-size="6.21" text-anchor="middle" textLength="3.44" lengthAdjust="spacingAndGlyphs" fill="#000">0</text>
<line x1="219.4" y1="112.3" x2="219.4" y2="114" stroke="#707070" stroke-width="0.9"/>
<text x="219.4" y="119.3" font-size="6.21" text-anchor="middle" textLength="3.44" lengthAdjust="spacingAndGlyphs" fill="#000">2</text>
<line x1="238.5" y1="112.3" x2="238.5" y2="114" stroke="#707070" stroke-width="0.9"/>
<text x="238.5" y="119.3" font-size="6.21" text-anchor="middle" textLength="3.44" lengthAdjust="spacingAndGlyphs" fill="#000">4</text>
<line x1="257.6" y1="112.3" x2="257.6" y2="114" stroke="#707070" stroke-width="0.9"/>
<text x="257.6" y="119.3" font-size="6.21" text-anchor="middle" textLength="3.44" lengthAdjust="spacingAndGlyphs" fill="#000">6</text>
<line x1="276.7" y1="112.3" x2="276.7" y2="114" stroke="#707070" stroke-width="0.9"/>
<text x="276.7" y="119.3" font-size="6.21" text-anchor="middle" textLength="3.44" lengthAdjust="spacingAndGlyphs" fill="#000">8</text>
<line x1="295.8" y1="112.3" x2="295.8" y2="114" stroke="#707070" stroke-width="0.9"/>
<text x="295.8" y="119.3" font-size="6.21" text-anchor="middle" textLength="6.87" lengthAdjust="spacingAndGlyphs" fill="#000">10</text>
<line x1="314.9" y1="112.3" x2="314.9" y2="114" stroke="#707070" stroke-width="0.9"/>
<text x="314.9" y="119.3" font-size="6.21" text-anchor="middle" textLength="6.87" lengthAdjust="spacingAndGlyphs" fill="#000">12</text>
<line x1="334" y1="112.3" x2="334" y2="114" stroke="#707070" stroke-width="0.9"/>
<text x="334" y="119.3" font-size="6.21" text-anchor="middle" textLength="6.87" lengthAdjust="spacingAndGlyphs" fill="#000">14</text>
<line x1="191.7" y1="107.2" x2="193.4" y2="107.2" stroke="#707070" stroke-width="0.9"/>
<text x="190.6" y="109.3" font-size="6.21" text-anchor="end" textLength="8.59" lengthAdjust="spacingAndGlyphs" fill="#000">0.0</text>
<line x1="191.7" y1="88.3" x2="193.4" y2="88.3" stroke="#707070" stroke-width="0.9"/>
<text x="190.6" y="90.4" font-size="6.21" text-anchor="end" textLength="8.59" lengthAdjust="spacingAndGlyphs" fill="#000">0.1</text>
<line x1="191.7" y1="69.4" x2="193.4" y2="69.4" stroke="#707070" stroke-width="0.9"/>
<text x="190.6" y="71.5" font-size="6.21" text-anchor="end" textLength="8.59" lengthAdjust="spacingAndGlyphs" fill="#000">0.2</text>
<line x1="191.7" y1="50.5" x2="193.4" y2="50.5" stroke="#707070" stroke-width="0.9"/>
<text x="190.6" y="52.6" font-size="6.21" text-anchor="end" textLength="8.59" lengthAdjust="spacingAndGlyphs" fill="#000">0.3</text>
<line x1="191.7" y1="31.6" x2="193.4" y2="31.6" stroke="#707070" stroke-width="0.9"/>
<text x="190.6" y="33.7" font-size="6.21" text-anchor="end" textLength="8.59" lengthAdjust="spacingAndGlyphs" fill="#000">0.4</text>
<text x="180.1" y="64.4" font-size="7.13" text-anchor="middle" transform="rotate(-90 180.1 64.4)" textLength="56.04" lengthAdjust="spacingAndGlyphs" fill="#000">Probability of CVD</text>
<text x="265.9" y="126.7" font-size="7.13" text-anchor="middle" textLength="39.04" lengthAdjust="spacingAndGlyphs" fill="#000">Time (years)</text>
<text x="199.8" y="27.3" font-size="5.89" text-anchor="start" textLength="22" lengthAdjust="spacingAndGlyphs" fill="#000">HR: 1.84</text>
<text x="199.8" y="33.2" font-size="5.89" text-anchor="start" textLength="36.97" lengthAdjust="spacingAndGlyphs" fill="#000">p = 1.166e-08</text>
<rect x="295" y="95.7" width="10.8" height="2.6" fill="#1f77b4" fill-opacity="0.3"/>
<line x1="295" y1="97" x2="305.8" y2="97" stroke="#1f77b4" stroke-width="1.0" stroke-opacity="0.6"/>
<line x1="295" y1="104.5" x2="305.8" y2="104.5" stroke="#d62728" stroke-width="1.0" stroke-opacity="0.9"/>
<text x="309.5" y="99.2" font-size="5.86" text-anchor="start" textLength="21.5" lengthAdjust="spacingAndGlyphs" fill="#000">Low DMI</text>
<text x="309.5" y="106.7" font-size="5.86" text-anchor="start" textLength="23.17" lengthAdjust="spacingAndGlyphs" fill="#000">High DMI</text>
<line x1="366.8" y1="16.5" x2="366.8" y2="112.3" stroke="#707070" stroke-width="0.9"/>
<line x1="511.5" y1="16.5" x2="511.5" y2="112.3" stroke="#707070" stroke-width="0.9"/>
<line x1="366.8" y1="16.5" x2="511.5" y2="16.5" stroke="#707070" stroke-width="0.9"/>
<line x1="366.8" y1="112.3" x2="511.5" y2="112.3" stroke="#707070" stroke-width="0.9"/>
<line x1="373.7" y1="112.3" x2="373.7" y2="114" stroke="#707070" stroke-width="0.9"/>
<text x="373.7" y="119.3" font-size="6.21" text-anchor="middle" textLength="3.44" lengthAdjust="spacingAndGlyphs" fill="#000">0</text>
<line x1="392.8" y1="112.3" x2="392.8" y2="114" stroke="#707070" stroke-width="0.9"/>
<text x="392.8" y="119.3" font-size="6.21" text-anchor="middle" textLength="3.44" lengthAdjust="spacingAndGlyphs" fill="#000">2</text>
<line x1="411.9" y1="112.3" x2="411.9" y2="114" stroke="#707070" stroke-width="0.9"/>
<text x="411.9" y="119.3" font-size="6.21" text-anchor="middle" textLength="3.44" lengthAdjust="spacingAndGlyphs" fill="#000">4</text>
<line x1="431" y1="112.3" x2="431" y2="114" stroke="#707070" stroke-width="0.9"/>
<text x="431" y="119.3" font-size="6.21" text-anchor="middle" textLength="3.44" lengthAdjust="spacingAndGlyphs" fill="#000">6</text>
<line x1="450.1" y1="112.3" x2="450.1" y2="114" stroke="#707070" stroke-width="0.9"/>
<text x="450.1" y="119.3" font-size="6.21" text-anchor="middle" textLength="3.44" lengthAdjust="spacingAndGlyphs" fill="#000">8</text>
<line x1="469.2" y1="112.3" x2="469.2" y2="114" stroke="#707070" stroke-width="0.9"/>
<text x="469.2" y="119.3" font-size="6.21" text-anchor="middle" textLength="6.87" lengthAdjust="spacingAndGlyphs" fill="#000">10</text>
<line x1="488.3" y1="112.3" x2="488.3" y2="114" stroke="#707070" stroke-width="0.9"/>
<text x="488.3" y="119.3" font-size="6.21" text-anchor="middle" textLength="6.87" lengthAdjust="spacingAndGlyphs" fill="#000">12</text>
<line x1="507.4" y1="112.3" x2="507.4" y2="114" stroke="#707070" stroke-width="0.9"/>
<text x="507.4" y="119.3" font-size="6.21" text-anchor="middle" textLength="6.87" lengthAdjust="spacingAndGlyphs" fill="#000">14</text>
<line x1="365.1" y1="107.5" x2="366.8" y2="107.5" stroke="#707070" stroke-width="0.9"/>
<text x="364" y="109.6" font-size="6.21" text-anchor="end" textLength="12.02" lengthAdjust="spacingAndGlyphs" fill="#000">0.00</text>
<line x1="365.1" y1="96.07" x2="366.8" y2="96.07" stroke="#707070" stroke-width="0.9"/>
<text x="364" y="98.17" font-size="6.21" text-anchor="end" textLength="12.02" lengthAdjust="spacingAndGlyphs" fill="#000">0.02</text>
<line x1="365.1" y1="84.64" x2="366.8" y2="84.64" stroke="#707070" stroke-width="0.9"/>
<text x="364" y="86.74" font-size="6.21" text-anchor="end" textLength="12.02" lengthAdjust="spacingAndGlyphs" fill="#000">0.04</text>
<line x1="365.1" y1="73.21" x2="366.8" y2="73.21" stroke="#707070" stroke-width="0.9"/>
<text x="364" y="75.31" font-size="6.21" text-anchor="end" textLength="12.02" lengthAdjust="spacingAndGlyphs" fill="#000">0.06</text>
<line x1="365.1" y1="61.78" x2="366.8" y2="61.78" stroke="#707070" stroke-width="0.9"/>
<text x="364" y="63.88" font-size="6.21" text-anchor="end" textLength="12.02" lengthAdjust="spacingAndGlyphs" fill="#000">0.08</text>
<line x1="365.1" y1="50.35" x2="366.8" y2="50.35" stroke="#707070" stroke-width="0.9"/>
<text x="364" y="52.45" font-size="6.21" text-anchor="end" textLength="12.02" lengthAdjust="spacingAndGlyphs" fill="#000">0.10</text>
<line x1="365.1" y1="38.92" x2="366.8" y2="38.92" stroke="#707070" stroke-width="0.9"/>
<text x="364" y="41.02" font-size="6.21" text-anchor="end" textLength="12.02" lengthAdjust="spacingAndGlyphs" fill="#000">0.12</text>
<line x1="365.1" y1="27.49" x2="366.8" y2="27.49" stroke="#707070" stroke-width="0.9"/>
<text x="364" y="29.59" font-size="6.21" text-anchor="end" textLength="12.02" lengthAdjust="spacingAndGlyphs" fill="#000">0.14</text>
<text x="349.9" y="64.4" font-size="7.13" text-anchor="middle" transform="rotate(-90 349.9 64.4)" textLength="56.46" lengthAdjust="spacingAndGlyphs" fill="#000">Probability of CHD</text>
<text x="439.15" y="126.7" font-size="7.13" text-anchor="middle" textLength="39.04" lengthAdjust="spacingAndGlyphs" fill="#000">Time (years)</text>
<text x="372.8" y="27.3" font-size="5.89" text-anchor="start" textLength="18.75" lengthAdjust="spacingAndGlyphs" fill="#000">HR: 1.9</text>
<text x="372.8" y="33.2" font-size="5.89" text-anchor="start" textLength="28.71" lengthAdjust="spacingAndGlyphs" fill="#000">p = 0.0002</text>
<rect x="468.8" y="95.5" width="10.9" height="2.6" fill="#1f77b4" fill-opacity="0.3"/>
<line x1="468.8" y1="96.8" x2="479.7" y2="96.8" stroke="#1f77b4" stroke-width="1.0" stroke-opacity="0.6"/>
<line x1="468.8" y1="104.3" x2="479.7" y2="104.3" stroke="#d62728" stroke-width="1.0" stroke-opacity="0.9"/>
<text x="483.9" y="99" font-size="5.86" text-anchor="start" textLength="21.5" lengthAdjust="spacingAndGlyphs" fill="#000">Low DMI</text>
<text x="483.9" y="106.5" font-size="5.86" text-anchor="start" textLength="23.17" lengthAdjust="spacingAndGlyphs" fill="#000">High DMI</text>
<line x1="539.7" y1="16.5" x2="539.7" y2="112.3" stroke="#707070" stroke-width="0.9"/>
<line x1="684" y1="16.5" x2="684" y2="112.3" stroke="#707070" stroke-width="0.9"/>
<line x1="539.7" y1="16.5" x2="684" y2="16.5" stroke="#707070" stroke-width="0.9"/>
<line x1="539.7" y1="112.3" x2="684" y2="112.3" stroke="#707070" stroke-width="0.9"/>
<line x1="546.7" y1="112.3" x2="546.7" y2="114" stroke="#707070" stroke-width="0.9"/>
<text x="546.7" y="119.3" font-size="6.21" text-anchor="middle" textLength="3.44" lengthAdjust="spacingAndGlyphs" fill="#000">0</text>
<line x1="565.8" y1="112.3" x2="565.8" y2="114" stroke="#707070" stroke-width="0.9"/>
<text x="565.8" y="119.3" font-size="6.21" text-anchor="middle" textLength="3.44" lengthAdjust="spacingAndGlyphs" fill="#000">2</text>
<line x1="584.9" y1="112.3" x2="584.9" y2="114" stroke="#707070" stroke-width="0.9"/>
<text x="584.9" y="119.3" font-size="6.21" text-anchor="middle" textLength="3.44" lengthAdjust="spacingAndGlyphs" fill="#000">4</text>
<line x1="604" y1="112.3" x2="604" y2="114" stroke="#707070" stroke-width="0.9"/>
<text x="604" y="119.3" font-size="6.21" text-anchor="middle" textLength="3.44" lengthAdjust="spacingAndGlyphs" fill="#000">6</text>
<line x1="623.1" y1="112.3" x2="623.1" y2="114" stroke="#707070" stroke-width="0.9"/>
<text x="623.1" y="119.3" font-size="6.21" text-anchor="middle" textLength="3.44" lengthAdjust="spacingAndGlyphs" fill="#000">8</text>
<line x1="642.2" y1="112.3" x2="642.2" y2="114" stroke="#707070" stroke-width="0.9"/>
<text x="642.2" y="119.3" font-size="6.21" text-anchor="middle" textLength="6.87" lengthAdjust="spacingAndGlyphs" fill="#000">10</text>
<line x1="661.3" y1="112.3" x2="661.3" y2="114" stroke="#707070" stroke-width="0.9"/>
<text x="661.3" y="119.3" font-size="6.21" text-anchor="middle" textLength="6.87" lengthAdjust="spacingAndGlyphs" fill="#000">12</text>
<line x1="680.4" y1="112.3" x2="680.4" y2="114" stroke="#707070" stroke-width="0.9"/>
<text x="680.4" y="119.3" font-size="6.21" text-anchor="middle" textLength="6.87" lengthAdjust="spacingAndGlyphs" fill="#000">14</text>
<line x1="538" y1="107.7" x2="539.7" y2="107.7" stroke="#707070" stroke-width="0.9"/>
<text x="536.9" y="109.8" font-size="6.21" text-anchor="end" textLength="12.02" lengthAdjust="spacingAndGlyphs" fill="#000">0.00</text>
<line x1="538" y1="92.2" x2="539.7" y2="92.2" stroke="#707070" stroke-width="0.9"/>
<text x="536.9" y="94.3" font-size="6.21" text-anchor="end" textLength="12.02" lengthAdjust="spacingAndGlyphs" fill="#000">0.05</text>
<line x1="538" y1="76.7" x2="539.7" y2="76.7" stroke="#707070" stroke-width="0.9"/>
<text x="536.9" y="78.8" font-size="6.21" text-anchor="end" textLength="12.02" lengthAdjust="spacingAndGlyphs" fill="#000">0.10</text>
<line x1="538" y1="61.2" x2="539.7" y2="61.2" stroke="#707070" stroke-width="0.9"/>
<text x="536.9" y="63.3" font-size="6.21" text-anchor="end" textLength="12.02" lengthAdjust="spacingAndGlyphs" fill="#000">0.15</text>
<line x1="538" y1="45.7" x2="539.7" y2="45.7" stroke="#707070" stroke-width="0.9"/>
<text x="536.9" y="47.8" font-size="6.21" text-anchor="end" textLength="12.02" lengthAdjust="spacingAndGlyphs" fill="#000">0.20</text>
<line x1="538" y1="30.2" x2="539.7" y2="30.2" stroke="#707070" stroke-width="0.9"/>
<text x="536.9" y="32.3" font-size="6.21" text-anchor="end" textLength="12.02" lengthAdjust="spacingAndGlyphs" fill="#000">0.25</text>
<text x="523" y="64.4" font-size="7.13" text-anchor="middle" transform="rotate(-90 523 64.4)" textLength="55.25" lengthAdjust="spacingAndGlyphs" fill="#000">Probability of CHF</text>
<text x="611.85" y="126.7" font-size="7.13" text-anchor="middle" textLength="39.04" lengthAdjust="spacingAndGlyphs" fill="#000">Time (years)</text>
<text x="545.8" y="27.3" font-size="5.89" text-anchor="start" textLength="18.75" lengthAdjust="spacingAndGlyphs" fill="#000">HR: 2.5</text>
<text x="545.8" y="33.2" font-size="5.89" text-anchor="start" textLength="36.97" lengthAdjust="spacingAndGlyphs" fill="#000">p = 2.149e-06</text>
<rect x="641.3" y="22" width="11.7" height="2.6" fill="#1f77b4" fill-opacity="0.3"/>
<line x1="641.3" y1="23.3" x2="653" y2="23.3" stroke="#1f77b4" stroke-width="1.0" stroke-opacity="0.6"/>
<line x1="641.3" y1="30.3" x2="653" y2="30.3" stroke="#d62728" stroke-width="1.0" stroke-opacity="0.9"/>
<text x="656.9" y="25.5" font-size="5.86" text-anchor="start" textLength="21.5" lengthAdjust="spacingAndGlyphs" fill="#000">Low DMI</text>
<text x="656.9" y="32.5" font-size="5.86" text-anchor="start" textLength="23.17" lengthAdjust="spacingAndGlyphs" fill="#000">High DMI</text>
<line x1="127.2" y1="145.6" x2="127.2" y2="242.6" stroke="#555" stroke-width="0.75" stroke-dasharray="3.0,1.8"/>
<line x1="116.8" y1="150.3" x2="159.7" y2="150.3" stroke="#000" stroke-width="1.0"/>
<line x1="116.8" y1="148.1" x2="116.8" y2="152.5" stroke="#000" stroke-width="1.0"/>
<line x1="159.7" y1="148.1" x2="159.7" y2="152.5" stroke="#000" stroke-width="1.0"/>
<path d="M136 147.5L138.6 150.3L136 153.1L133.4 150.3Z" fill="#111"/>
<line x1="131.7" y1="179.6" x2="187.7" y2="179.6" stroke="#e8474a" stroke-width="1.0"/>
<line x1="131.7" y1="177.4" x2="131.7" y2="181.8" stroke="#e8474a" stroke-width="1.0"/>
<line x1="187.7" y1="177.4" x2="187.7" y2="181.8" stroke="#e8474a" stroke-width="1.0"/>
<path d="M156.6 176.8L159.2 179.6L156.6 182.4L154 179.6Z" fill="#dd1c1c"/>
<line x1="137.8" y1="209" x2="248" y2="209" stroke="#e8474a" stroke-width="1.0"/>
<line x1="137.8" y1="206.8" x2="137.8" y2="211.2" stroke="#e8474a" stroke-width="1.0"/>
<line x1="248" y1="206.8" x2="248" y2="211.2" stroke="#e8474a" stroke-width="1.0"/>
<path d="M183.6 206.2L186.2 209L183.6 211.8L181 209Z" fill="#dd1c1c"/>
<line x1="123.5" y1="238.6" x2="235.2" y2="238.6" stroke="#000" stroke-width="1.0"/>
<line x1="123.5" y1="236.4" x2="123.5" y2="240.8" stroke="#000" stroke-width="1.0"/>
<line x1="235.2" y1="236.4" x2="235.2" y2="240.8" stroke="#000" stroke-width="1.0"/>
<path d="M168.6 235.8L171.2 238.6L168.6 241.4L166 238.6Z" fill="#111"/>
<line x1="107.5" y1="145.6" x2="107.5" y2="242.6" stroke="#707070" stroke-width="0.9"/>
<line x1="254.5" y1="145.6" x2="254.5" y2="242.6" stroke="#707070" stroke-width="0.9"/>
<line x1="107.5" y1="145.6" x2="254.5" y2="145.6" stroke="#707070" stroke-width="0.9"/>
<line x1="107.5" y1="242.6" x2="254.5" y2="242.6" stroke="#707070" stroke-width="0.9"/>
<line x1="105.8" y1="150.3" x2="107.5" y2="150.3" stroke="#707070" stroke-width="0.9"/>
<text x="104.7" y="152.4" font-size="5.86" text-anchor="end" textLength="22.59" lengthAdjust="spacingAndGlyphs" fill="#000">Mortality</text>
<line x1="105.8" y1="179.6" x2="107.5" y2="179.6" stroke="#707070" stroke-width="0.9"/>
<text x="104.7" y="181.7" font-size="5.86" text-anchor="end" textLength="10.98" lengthAdjust="spacingAndGlyphs" fill="#000">CVD</text>
<line x1="105.8" y1="209" x2="107.5" y2="209" stroke="#707070" stroke-width="0.9"/>
<text x="104.7" y="211.1" font-size="5.86" text-anchor="end" textLength="11.32" lengthAdjust="spacingAndGlyphs" fill="#000">CHD</text>
<line x1="105.8" y1="238.6" x2="107.5" y2="238.6" stroke="#707070" stroke-width="0.9"/>
<text x="104.7" y="240.7" font-size="5.86" text-anchor="end" textLength="10.33" lengthAdjust="spacingAndGlyphs" fill="#000">CHF</text>
<line x1="107.5" y1="242.6" x2="107.5" y2="244.3" stroke="#707070" stroke-width="0.9"/>
<text x="107.5" y="250.4" font-size="6.21" text-anchor="middle" textLength="8.59" lengthAdjust="spacingAndGlyphs" fill="#000">0.8</text>
<line x1="127.2" y1="242.6" x2="127.2" y2="244.3" stroke="#707070" stroke-width="0.9"/>
<text x="127.2" y="250.4" font-size="6.21" text-anchor="middle" textLength="8.59" lengthAdjust="spacingAndGlyphs" fill="#000">1.0</text>
<line x1="146.9" y1="242.6" x2="146.9" y2="244.3" stroke="#707070" stroke-width="0.9"/>
<text x="146.9" y="250.4" font-size="6.21" text-anchor="middle" textLength="8.59" lengthAdjust="spacingAndGlyphs" fill="#000">1.2</text>
<line x1="166.6" y1="242.6" x2="166.6" y2="244.3" stroke="#707070" stroke-width="0.9"/>
<text x="166.6" y="250.4" font-size="6.21" text-anchor="middle" textLength="8.59" lengthAdjust="spacingAndGlyphs" fill="#000">1.4</text>
<line x1="186.3" y1="242.6" x2="186.3" y2="244.3" stroke="#707070" stroke-width="0.9"/>
<text x="186.3" y="250.4" font-size="6.21" text-anchor="middle" textLength="8.59" lengthAdjust="spacingAndGlyphs" fill="#000">1.6</text>
<line x1="206" y1="242.6" x2="206" y2="244.3" stroke="#707070" stroke-width="0.9"/>
<text x="206" y="250.4" font-size="6.21" text-anchor="middle" textLength="8.59" lengthAdjust="spacingAndGlyphs" fill="#000">1.8</text>
<line x1="225.7" y1="242.6" x2="225.7" y2="244.3" stroke="#707070" stroke-width="0.9"/>
<text x="225.7" y="250.4" font-size="6.21" text-anchor="middle" textLength="8.59" lengthAdjust="spacingAndGlyphs" fill="#000">2.0</text>
<line x1="245.4" y1="242.6" x2="245.4" y2="244.3" stroke="#707070" stroke-width="0.9"/>
<text x="245.4" y="250.4" font-size="6.21" text-anchor="middle" textLength="8.59" lengthAdjust="spacingAndGlyphs" fill="#000">2.2</text>
<text x="181" y="257.4" font-size="7.13" text-anchor="middle" textLength="39.78" lengthAdjust="spacingAndGlyphs" fill="#000">Hazard Ratio</text>
<path d="M220.6 149.7L222.6 151.9L220.6 154.1L218.6 151.9Z" fill="#dd1c1c"/>
<text x="229.1" y="153.9" font-size="5.69" text-anchor="start" textLength="21.46" lengthAdjust="spacingAndGlyphs" fill="#000">p &lt; 0.05</text>
<path d="M220.6 156.9L222.6 159.1L220.6 161.3L218.6 159.1Z" fill="#111"/>
<text x="229.1" y="161.1" font-size="5.69" text-anchor="start" textLength="5.72" lengthAdjust="spacingAndGlyphs" fill="#000">ns</text>
<path d="M287.2 150.5H292.3V159.9H293.6V164.6H296V170.1H328.6V175.2H420.3V182H427.6" fill="none" stroke="#1f77b4" stroke-width="1.1" stroke-linejoin="miter" stroke-opacity="0.72"/>
<path d="M287.3 150.5L288.2 192.2H293.2V201.6H295.4V210.9H302.4V215.4H333.1V220.2H340.3V225.5H394.5V230.6H423V237.4H427.6" fill="none" stroke="#d62728" stroke-width="1.1" stroke-linejoin="miter" stroke-opacity="0.72"/>
<line x1="282.3" y1="145.4" x2="282.3" y2="241.4" stroke="#707070" stroke-width="0.9"/>
<line x1="427.6" y1="145.4" x2="427.6" y2="241.4" stroke="#707070" stroke-width="0.9"/>
<line x1="282.3" y1="145.4" x2="427.6" y2="145.4" stroke="#707070" stroke-width="0.9"/>
<line x1="282.3" y1="241.4" x2="427.6" y2="241.4" stroke="#707070" stroke-width="0.9"/>
<line x1="280.6" y1="150.6" x2="282.3" y2="150.6" stroke="#707070" stroke-width="0.9"/>
<text x="279.5" y="152.7" font-size="6.21" text-anchor="end" textLength="8.59" lengthAdjust="spacingAndGlyphs" fill="#000">1.0</text>
<line x1="280.6" y1="165.55" x2="282.3" y2="165.55" stroke="#707070" stroke-width="0.9"/>
<text x="279.5" y="167.65" font-size="6.21" text-anchor="end" textLength="8.59" lengthAdjust="spacingAndGlyphs" fill="#000">0.9</text>
<line x1="280.6" y1="180.5" x2="282.3" y2="180.5" stroke="#707070" stroke-width="0.9"/>
<text x="279.5" y="182.6" font-size="6.21" text-anchor="end" textLength="8.59" lengthAdjust="spacingAndGlyphs" fill="#000">0.8</text>
<line x1="280.6" y1="195.45" x2="282.3" y2="195.45" stroke="#707070" stroke-width="0.9"/>
<text x="279.5" y="197.55" font-size="6.21" text-anchor="end" textLength="8.59" lengthAdjust="spacingAndGlyphs" fill="#000">0.7</text>
<line x1="280.6" y1="210.4" x2="282.3" y2="210.4" stroke="#707070" stroke-width="0.9"/>
<text x="279.5" y="212.5" font-size="6.21" text-anchor="end" textLength="8.59" lengthAdjust="spacingAndGlyphs" fill="#000">0.6</text>
<line x1="280.6" y1="225.35" x2="282.3" y2="225.35" stroke="#707070" stroke-width="0.9"/>
<text x="279.5" y="227.45" font-size="6.21" text-anchor="end" textLength="8.59" lengthAdjust="spacingAndGlyphs" fill="#000">0.5</text>
<line x1="280.6" y1="240.3" x2="282.3" y2="240.3" stroke="#707070" stroke-width="0.9"/>
<text x="279.5" y="242.4" font-size="6.21" text-anchor="end" textLength="8.59" lengthAdjust="spacingAndGlyphs" fill="#000">0.4</text>
<line x1="287.1" y1="241.4" x2="287.1" y2="243.1" stroke="#707070" stroke-width="0.9"/>
<text x="287.1" y="248.8" font-size="6.21" text-anchor="middle" textLength="8.59" lengthAdjust="spacingAndGlyphs" fill="#000">0.0</text>
<line x1="310.55" y1="241.4" x2="310.55" y2="243.1" stroke="#707070" stroke-width="0.9"/>
<text x="310.55" y="248.8" font-size="6.21" text-anchor="middle" textLength="8.59" lengthAdjust="spacingAndGlyphs" fill="#000">0.5</text>
<line x1="334" y1="241.4" x2="334" y2="243.1" stroke="#707070" stroke-width="0.9"/>
<text x="334" y="248.8" font-size="6.21" text-anchor="middle" textLength="8.59" lengthAdjust="spacingAndGlyphs" fill="#000">1.0</text>
<line x1="357.45" y1="241.4" x2="357.45" y2="243.1" stroke="#707070" stroke-width="0.9"/>
<text x="357.45" y="248.8" font-size="6.21" text-anchor="middle" textLength="8.59" lengthAdjust="spacingAndGlyphs" fill="#000">1.5</text>
<line x1="380.9" y1="241.4" x2="380.9" y2="243.1" stroke="#707070" stroke-width="0.9"/>
<text x="380.9" y="248.8" font-size="6.21" text-anchor="middle" textLength="8.59" lengthAdjust="spacingAndGlyphs" fill="#000">2.0</text>
<line x1="404.35" y1="241.4" x2="404.35" y2="243.1" stroke="#707070" stroke-width="0.9"/>
<text x="404.35" y="248.8" font-size="6.21" text-anchor="middle" textLength="8.59" lengthAdjust="spacingAndGlyphs" fill="#000">2.5</text>
<line x1="427.8" y1="241.4" x2="427.8" y2="243.1" stroke="#707070" stroke-width="0.9"/>
<text x="427.8" y="248.8" font-size="6.21" text-anchor="middle" textLength="8.59" lengthAdjust="spacingAndGlyphs" fill="#000">3.0</text>
<text x="268.3" y="193.4" font-size="7.13" text-anchor="middle" transform="rotate(-90 268.3 193.4)" textLength="59.74" lengthAdjust="spacingAndGlyphs" fill="#000">Survival Probability</text>
<text x="354.95" y="256.1" font-size="7.13" text-anchor="middle" textLength="39.04" lengthAdjust="spacingAndGlyphs" fill="#000">Time (years)</text>
<text x="289.8" y="229.3" font-size="5.89" text-anchor="start" textLength="22" lengthAdjust="spacingAndGlyphs" fill="#000">HR: 3.87</text>
<text x="289.8" y="235" font-size="5.89" text-anchor="start" textLength="28.71" lengthAdjust="spacingAndGlyphs" fill="#000">p = 0.0041</text>
<line x1="384.4" y1="152.2" x2="395.4" y2="152.2" stroke="#1f77b4" stroke-width="1.0"/>
<line x1="384.4" y1="160" x2="395.4" y2="160" stroke="#d62728" stroke-width="1.0"/>
<text x="399.5" y="154.2" font-size="5.86" text-anchor="start" textLength="21.5" lengthAdjust="spacingAndGlyphs" fill="#000">Low DMI</text>
<text x="399.5" y="162" font-size="5.86" text-anchor="start" textLength="23.17" lengthAdjust="spacingAndGlyphs" fill="#000">High DMI</text>
<path d="M462.1 150.1V204.3H467.3V215.6H469.7V226.2H568.3V237H601.4" fill="none" stroke="#d62728" stroke-width="1.1" stroke-linejoin="miter" stroke-opacity="0.72"/>
<path d="M461.6 150.1V175.8H466.3V182.3H469V189.2H475.8V195.3H506.6V202.3H514.4V209.7H596.7V219.8H601.4" fill="none" stroke="#ff7f0e" stroke-width="1.1" stroke-linejoin="miter" stroke-opacity="0.72"/>
<path d="M461.3 150.1H467.4V159.2H467.8V166.5H470.4V174.4H594.1V186.1H601.4" fill="none" stroke="#2ca02c" stroke-width="1.1" stroke-linejoin="miter" stroke-opacity="0.72"/>
<path d="M461.3 150.1H466.5V159.1H502.6V168.4H601.4" fill="none" stroke="#1f77b4" stroke-width="1.1" stroke-linejoin="miter" stroke-opacity="0.72"/>
<line x1="456.2" y1="145.4" x2="456.2" y2="241.4" stroke="#707070" stroke-width="0.9"/>
<line x1="601.4" y1="145.4" x2="601.4" y2="241.4" stroke="#707070" stroke-width="0.9"/>
<line x1="456.2" y1="145.4" x2="601.4" y2="145.4" stroke="#707070" stroke-width="0.9"/>
<line x1="456.2" y1="241.4" x2="601.4" y2="241.4" stroke="#707070" stroke-width="0.9"/>
<line x1="454.5" y1="150.1" x2="456.2" y2="150.1" stroke="#707070" stroke-width="0.9"/>
<text x="453.4" y="152.2" font-size="6.21" text-anchor="end" textLength="8.59" lengthAdjust="spacingAndGlyphs" fill="#000">1.0</text>
<line x1="454.5" y1="163.17" x2="456.2" y2="163.17" stroke="#707070" stroke-width="0.9"/>
<text x="453.4" y="165.27" font-size="6.21" text-anchor="end" textLength="8.59" lengthAdjust="spacingAndGlyphs" fill="#000">0.9</text>
<line x1="454.5" y1="176.24" x2="456.2" y2="176.24" stroke="#707070" stroke-width="0.9"/>
<text x="453.4" y="178.34" font-size="6.21" text-anchor="end" textLength="8.59" lengthAdjust="spacingAndGlyphs" fill="#000">0.8</text>
<line x1="454.5" y1="189.31" x2="456.2" y2="189.31" stroke="#707070" stroke-width="0.9"/>
<text x="453.4" y="191.41" font-size="6.21" text-anchor="end" textLength="8.59" lengthAdjust="spacingAndGlyphs" fill="#000">0.7</text>
<line x1="454.5" y1="202.38" x2="456.2" y2="202.38" stroke="#707070" stroke-width="0.9"/>
<text x="453.4" y="204.48" font-size="6.21" text-anchor="end" textLength="8.59" lengthAdjust="spacingAndGlyphs" fill="#000">0.6</text>
<line x1="454.5" y1="215.45" x2="456.2" y2="215.45" stroke="#707070" stroke-width="0.9"/>
<text x="453.4" y="217.55" font-size="6.21" text-anchor="end" textLength="8.59" lengthAdjust="spacingAndGlyphs" fill="#000">0.5</text>
<line x1="454.5" y1="228.52" x2="456.2" y2="228.52" stroke="#707070" stroke-width="0.9"/>
<text x="453.4" y="230.62" font-size="6.21" text-anchor="end" textLength="8.59" lengthAdjust="spacingAndGlyphs" fill="#000">0.4</text>
<line x1="454.5" y1="241.59" x2="456.2" y2="241.59" stroke="#707070" stroke-width="0.9"/>
<text x="453.4" y="243.69" font-size="6.21" text-anchor="end" textLength="8.59" lengthAdjust="spacingAndGlyphs" fill="#000">0.3</text>
<line x1="461.3" y1="241.4" x2="461.3" y2="243.1" stroke="#707070" stroke-width="0.9"/>
<text x="461.3" y="248.8" font-size="6.21" text-anchor="middle" textLength="8.59" lengthAdjust="spacingAndGlyphs" fill="#000">0.0</text>
<line x1="484.65" y1="241.4" x2="484.65" y2="243.1" stroke="#707070" stroke-width="0.9"/>
<text x="484.65" y="248.8" font-size="6.21" text-anchor="middle" textLength="8.59" lengthAdjust="spacingAndGlyphs" fill="#000">0.5</text>
<line x1="508" y1="241.4" x2="508" y2="243.1" stroke="#707070" stroke-width="0.9"/>
<text x="508" y="248.8" font-size="6.21" text-anchor="middle" textLength="8.59" lengthAdjust="spacingAndGlyphs" fill="#000">1.0</text>
<line x1="531.35" y1="241.4" x2="531.35" y2="243.1" stroke="#707070" stroke-width="0.9"/>
<text x="531.35" y="248.8" font-size="6.21" text-anchor="middle" textLength="8.59" lengthAdjust="spacingAndGlyphs" fill="#000">1.5</text>
<line x1="554.7" y1="241.4" x2="554.7" y2="243.1" stroke="#707070" stroke-width="0.9"/>
<text x="554.7" y="248.8" font-size="6.21" text-anchor="middle" textLength="8.59" lengthAdjust="spacingAndGlyphs" fill="#000">2.0</text>
<line x1="578.05" y1="241.4" x2="578.05" y2="243.1" stroke="#707070" stroke-width="0.9"/>
<text x="578.05" y="248.8" font-size="6.21" text-anchor="middle" textLength="8.59" lengthAdjust="spacingAndGlyphs" fill="#000">2.5</text>
<line x1="601.4" y1="241.4" x2="601.4" y2="243.1" stroke="#707070" stroke-width="0.9"/>
<text x="601.4" y="248.8" font-size="6.21" text-anchor="middle" textLength="8.59" lengthAdjust="spacingAndGlyphs" fill="#000">3.0</text>
<text x="442.7" y="193.4" font-size="7.13" text-anchor="middle" transform="rotate(-90 442.7 193.4)" textLength="59.74" lengthAdjust="spacingAndGlyphs" fill="#000">Survival Probability</text>
<text x="528.8" y="256.1" font-size="7.13" text-anchor="middle" textLength="39.04" lengthAdjust="spacingAndGlyphs" fill="#000">Time (years)</text>
<text x="566.5" y="156.6" font-size="5.89" text-anchor="start" textLength="28.71" lengthAdjust="spacingAndGlyphs" fill="#000">p = 0.0073</text>
<line x1="443.4" y1="264.9" x2="448.5" y2="264.9" stroke="#d62728" stroke-width="1.3"/>
<text x="452.9" y="266.8" font-size="5.4" text-anchor="start" textLength="26.74" lengthAdjust="spacingAndGlyphs" fill="#000">DMI+, CH+</text>
<line x1="484" y1="264.9" x2="489" y2="264.9" stroke="#ff7f0e" stroke-width="1.3"/>
<text x="492.8" y="266.8" font-size="5.4" text-anchor="start" textLength="24.5" lengthAdjust="spacingAndGlyphs" fill="#000">DMI+, CH-</text>
<line x1="522.9" y1="264.9" x2="527.7" y2="264.9" stroke="#2ca02c" stroke-width="1.3"/>
<text x="531" y="266.8" font-size="5.4" text-anchor="start" textLength="24.5" lengthAdjust="spacingAndGlyphs" fill="#000">DMI-, CH+</text>
<line x1="560.3" y1="264.9" x2="566" y2="264.9" stroke="#1f77b4" stroke-width="1.3"/>
<text x="569.2" y="266.8" font-size="5.4" text-anchor="start" textLength="22.26" lengthAdjust="spacingAndGlyphs" fill="#000">DMI-, CH-</text>
</svg>
</body></html>
